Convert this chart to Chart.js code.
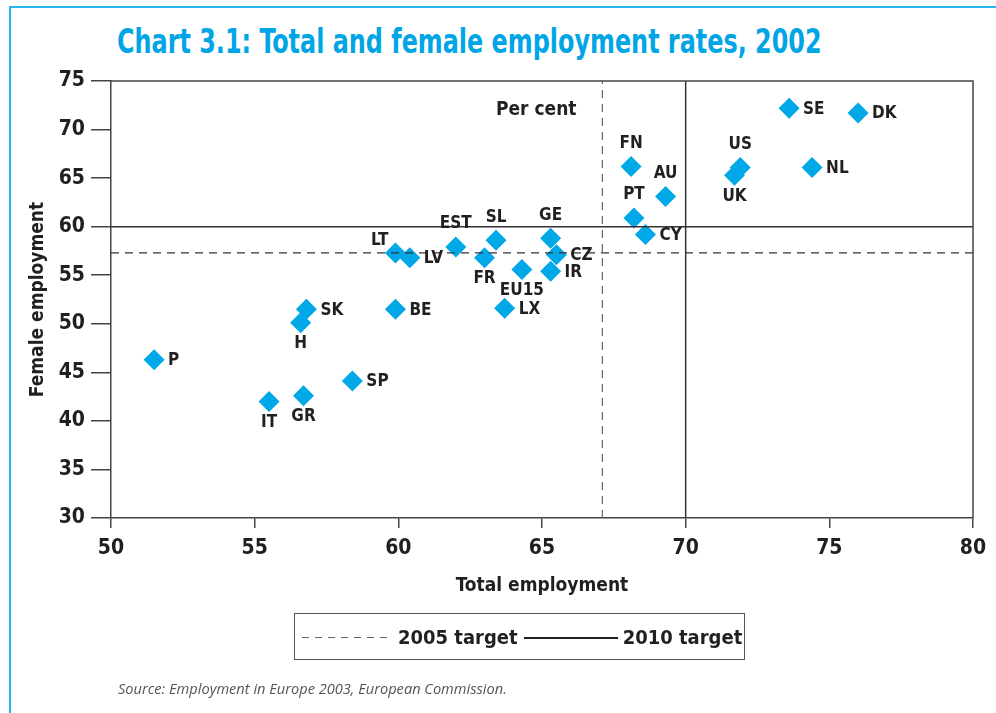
<!DOCTYPE html>
<html>
<head>
<meta charset="utf-8">
<script src="https://cdn.jsdelivr.net/npm/chart.js@4/dist/chart.umd.min.js"></script>
<style>
  body { margin: 0; background: #fff; }
  #wrap { position: relative; width: 996px; height: 713px; overflow: hidden; font-family: "DejaVu Sans Condensed", "DejaVu Sans", sans-serif; }
  #frameTop { position: absolute; left: 9px; top: 6px; width: 987px; height: 2px; background: #29b6ee; }
  #frameLeft { position: absolute; left: 9px; top: 6px; width: 2px; height: 707px; background: #29b6ee; }
  #title { position: absolute; left: 117px; top: 22px; font-size: 33px; font-weight: bold; color: #00a5e6; white-space: nowrap;
           transform: scaleX(0.805); transform-origin: left top; }
  #source { position: absolute; left: 118px; top: 678px; font-size: 14.6px; font-style: italic; color: #555; font-family: "Open Sans", "DejaVu Sans", sans-serif; }
  #legend { position: absolute; left: 294px; top: 613px; width: 451px; height: 47px; border: 1px solid #555; box-sizing: border-box;
            display: flex; align-items: center; font-size: 20px; font-weight: bold; color: #231f20; white-space: nowrap; }
  .dash { display: inline-block; width: 91px; height: 1.5px; margin: 2px 5px 0 7px;
          background: repeating-linear-gradient(to right, #666 0 7px, transparent 7px 13px); }
  .solid { display: inline-block; width: 94px; height: 2px; background: #231f20; margin: 2px 5px 0 6px; }
  canvas { position: absolute; left: 0; top: 0; }
</style>
</head>
<body>
<div id="wrap">
  <div id="frameTop"></div>
  <div id="frameLeft"></div>
  <div id="title">Chart 3.1: Total and female employment rates, 2002</div>
  <canvas id="scatterChart" width="996" height="713"></canvas>
  <div id="legend"><span class="dash"></span>2005 target<span class="solid"></span>2010 target</div>
  <div id="source">Source: Employment in Europe 2003, European Commission.</div>
</div>
<script>
// Datos
const countries = ['P', 'SK', 'H', 'IT', 'GR', 'SP', 'LT', 'LV', 'BE', 'EST', 'SL', 'FR', 'EU15', 'LX', 'GE', 'CZ', 'IR', 'FN', 'AU', 'PT', 'CY', 'US', 'UK', 'SE', 'DK', 'NL'];
const totalEmployment = [51.5, 56.8, 56.6, 55.5, 56.7, 58.4, 59.9, 60.4, 59.9, 62.0, 63.4, 63.0, 64.3, 63.7, 65.3, 65.5, 65.3, 68.1, 69.3, 68.2, 68.6, 71.9, 71.7, 73.6, 76.0, 74.4];
const femaleEmployment = [46.3, 51.5, 50.1, 42.0, 42.6, 44.1, 57.3, 56.8, 51.5, 57.9, 58.6, 56.8, 55.6, 51.6, 58.8, 57.1, 55.4, 66.2, 63.1, 60.9, 59.2, 66.1, 65.3, 72.2, 71.7, 66.1];
const labelSide = ['right', 'right', 'below', 'below', 'below', 'right', 'aboveLeft', 'right', 'right', 'above', 'above', 'below', 'below', 'right', 'above', 'right', 'right', 'above', 'above', 'above', 'right', 'above', 'below', 'right', 'right', 'right'];

const target2005 = { total: 67.1, female: 57.3 };
const target2010 = { total: 70, female: 60 };
const xRange = [50, 80];
const yRange = [30, 75];

const ink = '#231f20';
const font = '"DejaVu Sans Condensed", "DejaVu Sans", sans-serif';

// Etiquetas de paises
const countryLabels = {
    id: 'countryLabels',
    afterDatasetsDraw(chart) {
        const ctx = chart.ctx;
        const meta = chart.getDatasetMeta(4);
        ctx.save();
        ctx.fillStyle = ink;
        ctx.font = 'bold 17px ' + font;
        meta.data.forEach((pt, i) => {
            const side = labelSide[i];
            let x = pt.x, y = pt.y;
            if (side === 'right') { ctx.textAlign = 'left'; ctx.textBaseline = 'middle'; x += 14; y += 1; }
            else if (side === 'above') { ctx.textAlign = 'center'; ctx.textBaseline = 'middle'; y -= 23; }
            else if (side === 'below') { ctx.textAlign = 'center'; ctx.textBaseline = 'middle'; y += 21; }
            else if (side === 'aboveLeft') { ctx.textAlign = 'right'; ctx.textBaseline = 'middle'; x -= 7; y -= 12; }
            ctx.fillText(countries[i], x, y);
        });
        // Per cent
        const a = chart.chartArea;
        ctx.font = 'bold 19px ' + font;
        ctx.textAlign = 'center';
        ctx.textBaseline = 'middle';
        ctx.fillText('Per cent', chart.scales.x.getPixelForValue(64.8), a.top + 29);
        // Marco
        ctx.strokeStyle = '#444';
        ctx.lineWidth = 1.5;
        ctx.beginPath();
        ctx.moveTo(a.left, a.top);
        ctx.lineTo(a.right, a.top);
        ctx.lineTo(a.right, a.bottom);
        ctx.stroke();
        ctx.restore();
    }
};

const ctx = document.getElementById('scatterChart').getContext('2d');

new Chart(ctx, {
    type: 'scatter',
    data: {
        datasets: [
            {
                data: [{ x: target2005.total, y: yRange[0] }, { x: target2005.total, y: yRange[1] }],
                showLine: true, borderColor: '#666', borderWidth: 1.2, borderDash: [8, 6], pointRadius: 0
            },
            {
                data: [{ x: xRange[0], y: target2005.female }, { x: xRange[1], y: target2005.female }],
                showLine: true, borderColor: '#333', borderWidth: 1.2, borderDash: [8, 6], pointRadius: 0
            },
            {
                data: [{ x: target2010.total, y: yRange[0] }, { x: target2010.total, y: yRange[1] }],
                showLine: true, borderColor: '#333', borderWidth: 1.5, pointRadius: 0
            },
            {
                data: [{ x: xRange[0], y: target2010.female }, { x: xRange[1], y: target2010.female }],
                showLine: true, borderColor: '#333', borderWidth: 1.5, pointRadius: 0
            },
            {
                data: totalEmployment.map((v, i) => ({ x: v, y: femaleEmployment[i] })),
                pointStyle: 'rectRot',
                pointRadius: 10.5,
                pointBackgroundColor: '#00a8e8',
                pointBorderWidth: 0,
                pointBorderColor: '#00a8e8'
            }
        ]
    },
    options: {
        responsive: false,
        animation: false,
        layout: { padding: { left: 0, top: 81, right: 23, bottom: 105 } },
        scales: {
            x: {
                type: 'linear',
                min: xRange[0], max: xRange[1],
                afterFit: s => { s.height = 90; },
                ticks: { stepSize: 5, color: ink, padding: 8, font: { family: font, size: 21, weight: 'bold' } },
                grid: { drawOnChartArea: false, tickLength: 10, color: '#444', lineWidth: 1.5 },
                border: { color: '#444', width: 1.5 },
                title: { display: true, text: 'Total employment', color: ink, padding: { top: 0, bottom: 11 }, font: { family: font, size: 19, weight: 'bold' } }
            },
            y: {
                type: 'linear',
                min: yRange[0], max: yRange[1],
                afterFit: s => { s.width = 111; },
                ticks: { stepSize: 5, color: ink, padding: 6, font: { family: font, size: 21, weight: 'bold' } },
                grid: { drawOnChartArea: false, tickLength: 20, color: '#444', lineWidth: 1.5 },
                border: { color: '#444', width: 1.5 },
                title: { display: true, text: 'Female employment', color: ink, padding: { top: 27, bottom: 0 }, font: { family: font, size: 19, weight: 'bold' } }
            }
        },
        plugins: {
            legend: { display: false },
            tooltip: { enabled: false }
        }
    },
    plugins: [countryLabels]
});
</script>
</body>
</html>
